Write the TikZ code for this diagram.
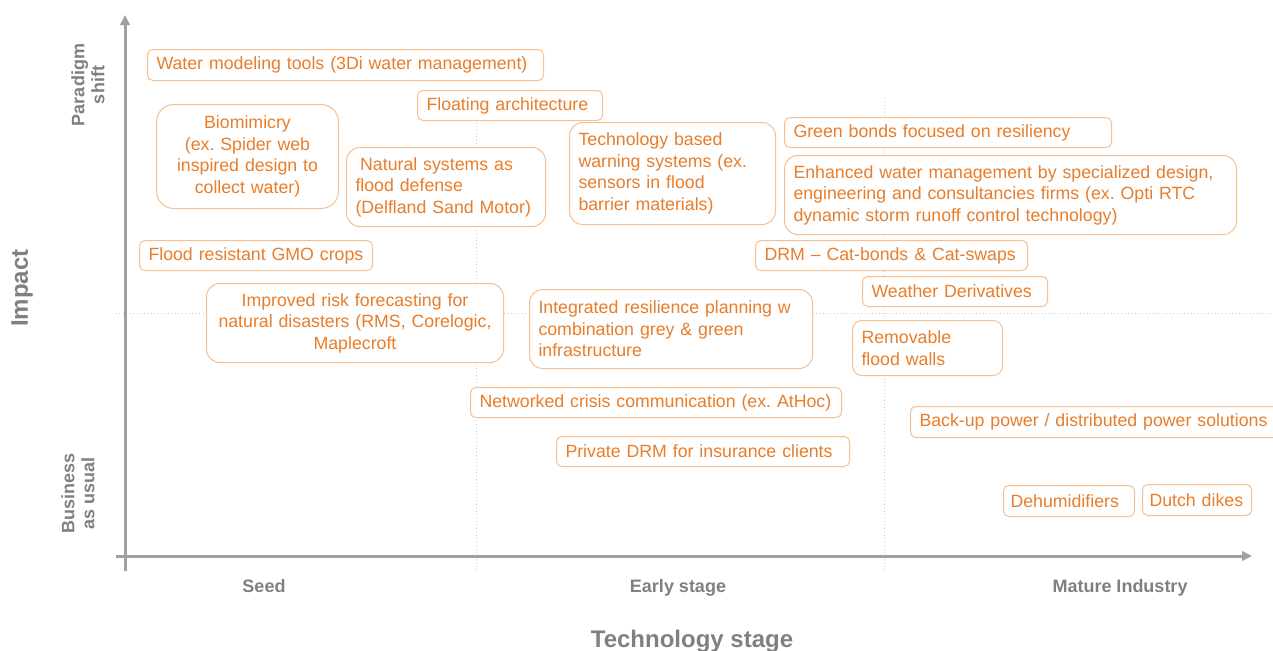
\documentclass[tikz,border=0pt]{standalone}
\usepackage{fontspec}
\setmainfont{Liberation Sans}
\usetikzlibrary{arrows.meta}
\frenchspacing

\definecolor{txtorange}{RGB}{232,125,42}
\definecolor{lineorange}{RGB}{246,192,145}
\definecolor{axisgray}{RGB}{160,160,160}
\definecolor{labelgray}{RGB}{128,128,128}
\definecolor{gridgray}{RGB}{205,205,205}

\tikzset{every picture/.style={line width=0.75pt}}
\tikzset{
	itembox/.style={draw=lineorange, fill=white, rounded corners=4pt, text=txtorange, font=\fontsize{13.3}{16.1}\selectfont, anchor=north west, align=left, inner xsep=6.75pt, inner ysep=1.5pt},
	tallbox/.style={itembox, rounded corners=10pt},
	axislabel/.style={text=labelgray, font=\bfseries\fontsize{13.5}{15}\selectfont, align=center},
	axistitle/.style={text=labelgray, font=\bfseries\fontsize{18}{20}\selectfont},
	gridline/.style={gridgray, dotted, line width=0.6pt},
	axisline/.style={axisgray, line width=2.25pt, -{Triangle[length=7.5pt,width=7pt]}}
}

\begin{document}
\begin{tikzpicture}[x=0.75pt,y=0.75pt,yscale=-1,xscale=1]
		\useasboundingbox (0,0) rectangle (1273,650);
		
		%Grid
		\draw [gridline] (116,313) -- (1273,313);
		\draw [gridline] (476,98) -- (476,572);
		\draw [gridline] (884,98) -- (884,572);
		
		%Axes
		\coordinate (ybot) at (125,571);
		\coordinate (ytop) at (125,15);
		\coordinate (xleft) at (116,556);
		\coordinate (xright) at (1252,556);
		\draw [axisline] (ybot) -- (ytop);
		\draw [axisline] (xleft) -- (xright);
		
		%Axis labels
		\node (paradigm) [axislabel, rotate=90] at (88,85) {Paradigm\\shift};
		\node (impact) [axistitle, rotate=90] at (22,288) {Impact};
		\node (business) [axislabel, rotate=90] at (78,493) {Business\\as usual};
		\node (seed) [axislabel, anchor=base] at (264,592) {Seed};
		\node (early) [axislabel, anchor=base] at (678,592) {Early stage};
		\node (mature) [axislabel, anchor=base] at (1120,592) {Mature Industry};
		\node (techstage) [axistitle, anchor=base] at (692,647) {Technology stage};
		
		%Items
		\node (water) [itembox, text width=283.5pt, minimum height=23.25pt] at (147,49) {Water modeling tools (3Di water management)};
		\node (floating) [itembox, text width=125.25pt, minimum height=22.5pt] at (417,90) {Floating architecture};
		\node (biomimicry) [tallbox, align=center, rounded corners=13pt, text width=123pt, minimum height=78pt] at (156,104) {Biomimicry\\(ex. Spider web\\inspired design to\\collect water)};
		\node (natural) [tallbox, text width=135.75pt, minimum height=59.25pt] at (346,147) {\hspace{3.5pt}Natural systems as\\flood defense\\(Delfland Sand Motor)};
		\node (warning) [tallbox, text width=141pt, minimum height=76.5pt] at (569,122) {Technology based\\warning systems (ex.\\sensors in flood\\barrier materials)};
		\node (greenbonds) [itembox, text width=231.75pt, minimum height=22.5pt] at (784,117) {Green bonds focused on resiliency};
		\node (enhanced) [tallbox, text width=325.5pt, minimum height=59.25pt] at (784,155) {Enhanced water management by specialized design,\\engineering and consultancies firms (ex. Opti RTC\\dynamic storm runoff control technology)};
		\node (gmo) [itembox, text width=161.25pt, minimum height=22.5pt] at (139,240) {Flood resistant GMO crops};
		\node (catbonds) [itembox, text width=190.5pt, minimum height=22.5pt] at (755,240) {DRM -- Cat-bonds \& Cat-swaps};
		\node (weather) [itembox, text width=125.25pt, minimum height=22.5pt] at (862,276) {Weather Derivatives};
		\node (forecast) [tallbox, align=center, text width=209.25pt, minimum height=59.25pt] at (206,283) {Improved risk forecasting for\\natural disasters (RMS, Corelogic,\\Maplecroft};
		\node (integrated) [tallbox, text width=198.75pt, minimum height=59.25pt] at (529,289) {Integrated resilience planning w\\combination grey \& green\\infrastructure};
		\node (floodwalls) [tallbox, rounded corners=7pt, text width=99pt, minimum height=41.25pt] at (852,320) {Removable\\flood walls};
		\node (crisis) [itembox, text width=264.75pt, minimum height=22.5pt] at (470,387) {Networked crisis communication (ex. AtHoc)};
		\node (backup) [itembox, text width=271.5pt, minimum height=23.25pt] at (910,406) {Back-up power / distributed power solutions};
		\node (privatedrm) [itembox, text width=206.25pt, minimum height=22.5pt] at (556,436) {Private DRM for insurance clients};
		\node (dehumid) [itembox, inner xsep=5.25pt, text width=87.75pt, minimum height=23.25pt] at (1003,485) {Dehumidifiers};
		\node (dikes) [itembox, inner xsep=5.25pt, text width=71.25pt, minimum height=23.25pt] at (1142,484) {Dutch dikes};
		
\end{tikzpicture}
\end{document}
